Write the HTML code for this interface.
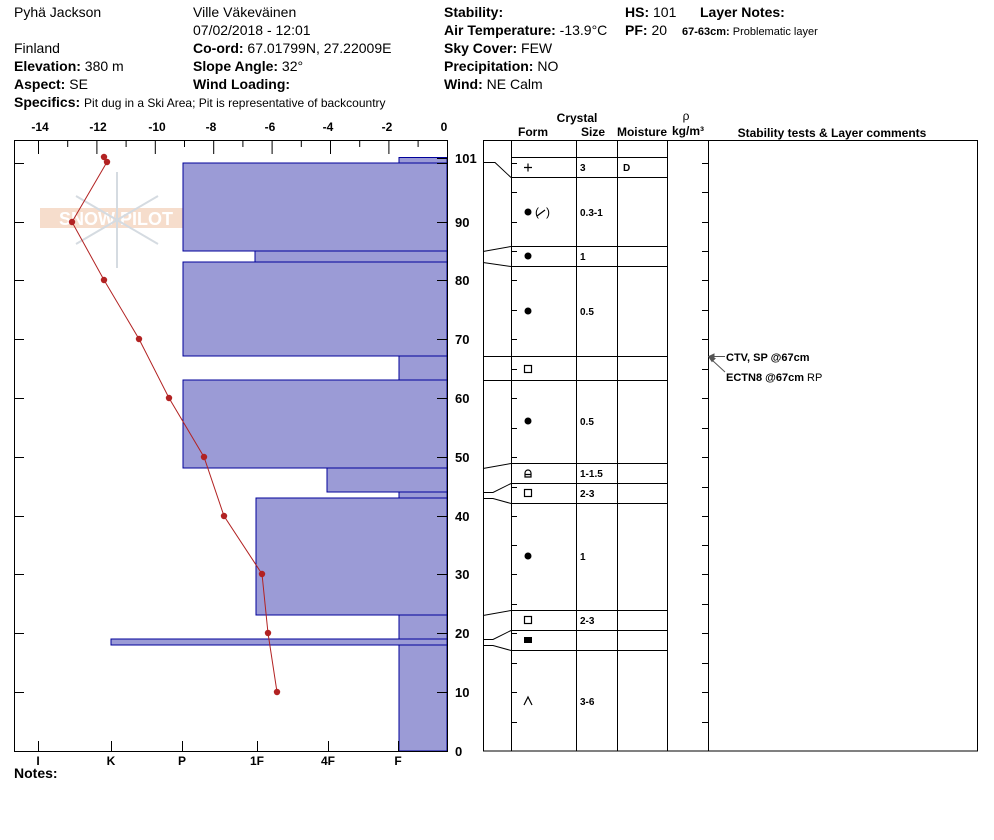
<!DOCTYPE html>
<html><head><meta charset="utf-8"><style>
body{margin:0;background:#fff;}
svg{display:block;font-family:"Liberation Sans",Arial,sans-serif;}
.b{font-weight:bold}
</style></head><body>
<svg width="994" height="840" viewBox="0 0 994 840" xmlns="http://www.w3.org/2000/svg">
<g font-size="14" fill="#000">
<text x="14" y="17">Pyhä Jackson</text>
<text x="14" y="53">Finland</text>
<text x="14" y="71"><tspan class="b">Elevation:</tspan> 380 m</text>
<text x="14" y="89"><tspan class="b">Aspect:</tspan> SE</text>
<text x="14" y="107"><tspan class="b">Specifics:</tspan> <tspan font-size="12">Pit dug in a Ski Area; Pit is representative of backcountry</tspan></text>
<text x="193" y="17">Ville Väkeväinen</text>
<text x="193" y="35">07/02/2018 - 12:01</text>
<text x="193" y="53"><tspan class="b">Co-ord:</tspan> 67.01799N, 27.22009E</text>
<text x="193" y="71"><tspan class="b">Slope Angle:</tspan> 32°</text>
<text x="193" y="89" class="b">Wind Loading:</text>
<text x="444" y="17" class="b">Stability:</text>
<text x="444" y="35"><tspan class="b">Air Temperature:</tspan> -13.9°C</text>
<text x="444" y="53"><tspan class="b">Sky Cover:</tspan> FEW</text>
<text x="444" y="71"><tspan class="b">Precipitation:</tspan> NO</text>
<text x="444" y="89"><tspan class="b">Wind:</tspan>  NE Calm</text>
<text x="625" y="17"><tspan class="b">HS:</tspan> 101</text>
<text x="625" y="35"><tspan class="b">PF:</tspan> 20</text>
<text x="700" y="17" class="b">Layer Notes:</text>
<text x="682" y="35" font-size="11"><tspan class="b">67-63cm:</tspan> Problematic layer</text>
<text x="14" y="778" class="b">Notes:</text>
</g>
<!-- logo -->
<g opacity="0.35">
<rect x="40" y="208" width="152" height="20" fill="#e8a070"/>
<text x="116" y="225" font-size="18" font-weight="bold" fill="#fff" text-anchor="middle">SNOW PILOT</text>
<g stroke="#8899aa" stroke-width="2"><line x1="117" y1="172" x2="117" y2="268"/><line x1="76" y1="196" x2="158" y2="244"/><line x1="76" y1="244" x2="158" y2="196"/></g>
</g>
<!-- bars -->
<g fill="#9b9bd6" stroke="#00009a" stroke-width="1">
<rect x="399" y="157.5" width="48" height="5.5"/>
<rect x="183" y="163" width="264" height="88"/>
<rect x="255" y="251" width="192" height="11"/>
<rect x="183" y="262" width="264" height="94"/>
<rect x="399" y="356" width="48" height="24"/>
<rect x="183" y="380" width="264" height="88"/>
<rect x="327" y="468" width="120" height="24"/>
<rect x="399" y="492" width="48" height="6"/>
<rect x="256" y="498" width="191" height="117"/>
<rect x="399" y="615" width="48" height="24"/>
<rect x="111" y="639" width="336" height="6"/>
<rect x="399" y="645" width="48" height="106"/>
</g>
<!-- left frame -->
<g stroke="#000" stroke-width="1" fill="none">
<line x1="14.5" y1="140.5" x2="447.5" y2="140.5"/>
<line x1="14.5" y1="140" x2="14.5" y2="751"/>
<line x1="447.5" y1="140" x2="447.5" y2="751"/>
<line x1="14" y1="751.5" x2="448" y2="751.5"/>
<path d="M38.5 140v14M67.7 140v7M96.9 140v14M126.1 140v7M155.3 140v14M184.5 140v7M213.7 140v14M242.9 140v7M272.1 140v14M301.3 140v7M330.5 140v14M359.7 140v7M388.9 140v14M418.1 140v7"/>
<path d="M14 163.5h10M14 222.5h10M14 280.5h10M14 339.5h10M14 398.5h10M14 457.5h10M14 516.5h10M14 574.5h10M14 633.5h10M14 692.5h10"/>
<path d="M437 158.5h10M437 163.5h10M437 222.5h10M437 280.5h10M437 339.5h10M437 398.5h10M437 457.5h10M437 516.5h10M437 574.5h10M437 633.5h10M437 692.5h10"/>
<path d="M38.5 741v10M111.5 741v10M182.5 741v10M257.5 741v10M328.5 741v10M398.5 741v10"/>
</g>
<g font-size="12" font-weight="bold" text-anchor="middle">
<text x="40" y="131">-14</text><text x="98" y="131">-12</text><text x="157" y="131">-10</text><text x="211" y="131">-8</text><text x="270" y="131">-6</text><text x="328" y="131">-4</text><text x="387" y="131">-2</text><text x="444" y="131">0</text>
<text x="38" y="765">I</text><text x="111" y="765">K</text><text x="182" y="765">P</text><text x="257" y="765">1F</text><text x="328" y="765">4F</text><text x="398" y="765">F</text>
</g>
<g font-size="13" font-weight="bold">
<text x="455" y="163">101</text><text x="455" y="227">90</text><text x="455" y="285">80</text><text x="455" y="344">70</text><text x="455" y="403">60</text><text x="455" y="462">50</text><text x="455" y="521">40</text><text x="455" y="579">30</text><text x="455" y="638">20</text><text x="455" y="697">10</text><text x="455" y="756">0</text>
</g>
<!-- temp -->
<polyline fill="none" stroke="#b22222" stroke-width="1" points="104,157 107,162 72,222 104,280 139,339 169,398 204,457 224,516 262,574 268,633 277,692"/>
<g fill="#b22222">
<circle cx="104" cy="157" r="3.2"/><circle cx="107" cy="162" r="3.2"/><circle cx="72" cy="222" r="3.2"/><circle cx="104" cy="280" r="3.2"/><circle cx="139" cy="339" r="3.2"/><circle cx="169" cy="398" r="3.2"/><circle cx="204" cy="457" r="3.2"/><circle cx="224" cy="516" r="3.2"/><circle cx="262" cy="574" r="3.2"/><circle cx="268" cy="633" r="3.2"/><circle cx="277" cy="692" r="3.2"/>
</g>
<!-- right table -->
<g font-size="12" font-weight="bold" text-anchor="middle">
<text x="577" y="122">Crystal</text>
<text x="533" y="136">Form</text><text x="593" y="136">Size</text><text x="642" y="136">Moisture</text>
<text x="686" y="120" font-weight="normal">ρ</text><text x="688" y="135">kg/m³</text>
<text x="832" y="137">Stability tests &amp; Layer comments</text>
</g>
<g stroke="#000" stroke-width="1" fill="none">
<rect x="483.5" y="140.5" width="494" height="610.5"/>
<line x1="511.5" y1="140" x2="511.5" y2="751"/>
<line x1="576.5" y1="140" x2="576.5" y2="751"/>
<line x1="617.5" y1="140" x2="617.5" y2="751"/>
<line x1="667.5" y1="140" x2="667.5" y2="751"/>
<line x1="708.5" y1="140" x2="708.5" y2="751"/>
<path d="M511 157.5h156M511 177.5h156M511 246.5h156M511 266.5h156M511 356.5h156M511 380.5h156M511 463.5h156M511 483.5h156M511 503.5h156M511 610.5h156M511 630.5h156M511 650.5h156"/>
<path d="M483 162.5h12l16 15M483 251.5l28-5M483 262.5l28 4M483 356.5h28M483 380.5h28M483 468.5l28-5M483 492.5h10l18-9M483 498.5h10l18 5M483 615.5l28-5M483 639.5h10l18-9M483 645.5h10l18 5"/>
<path d="M511 163.5h6M511 192.5h6M511 222.5h6M511 251.5h6M511 280.5h6M511 310.5h6M511 339.5h6M511 369.5h6M511 398.5h6M511 428.5h6M511 457.5h6M511 487.5h6M511 516.5h6M511 545.5h6M511 574.5h6M511 604.5h6M511 633.5h6M511 663.5h6M511 692.5h6M511 722.5h6"/>
<path d="M702 163.5h6M702 192.5h6M702 222.5h6M702 251.5h6M702 280.5h6M702 310.5h6M702 339.5h6M702 369.5h6M702 398.5h6M702 428.5h6M702 457.5h6M702 487.5h6M702 516.5h6M702 545.5h6M702 574.5h6M702 604.5h6M702 633.5h6M702 663.5h6M702 692.5h6M702 722.5h6"/>
</g>
<!-- symbols -->
<g stroke="#000" stroke-width="1.2" fill="none">
<path d="M524 167.5h8M528 163.5v8"/>
<rect x="524.5" y="365.5" width="7" height="7"/>
<rect x="524.5" y="489.5" width="7" height="7"/>
<rect x="524.5" y="616.5" width="7" height="7"/>
<path d="M524 705l4-8 4 8"/>
<path d="M525 477v-4a3 3 0 0 1 6 0v4zM525 474.5h6"/>
<path d="M537 216l8-6"/>
</g>
<g fill="#000">
<circle cx="528" cy="212" r="3.5"/><circle cx="528" cy="256" r="3.5"/><circle cx="528" cy="311" r="3.5"/><circle cx="528" cy="421" r="3.5"/><circle cx="528" cy="556" r="3.5"/>
<rect x="524" y="637" width="8" height="6"/>
</g>
<text x="535" y="216" font-size="12">(</text><text x="546" y="216" font-size="12">)</text>
<g font-size="10" font-weight="bold">
<text x="580" y="171">3</text><text x="623" y="171">D</text>
<text x="580" y="216">0.3-1</text><text x="580" y="260">1</text><text x="580" y="315">0.5</text><text x="580" y="425">0.5</text>
<text x="580" y="477">1-1.5</text><text x="580" y="497">2-3</text><text x="580" y="560">1</text><text x="580" y="624">2-3</text><text x="580" y="705">3-6</text>
</g>
<g stroke="#555" stroke-width="1" fill="#555">
<line x1="713" y1="356.5" x2="725" y2="356.5"/><path d="M709 356.5l5-2.5v5z"/>
<line x1="712" y1="360" x2="725" y2="372"/><path d="M709 357l6 1.5-3 3z"/>
</g>
<text x="726" y="361" font-size="11" font-weight="bold">CTV, SP @67cm</text>
<text x="726" y="381" font-size="11"><tspan font-weight="bold">ECTN8 @67cm</tspan>  RP</text>
</svg>
</body></html>
